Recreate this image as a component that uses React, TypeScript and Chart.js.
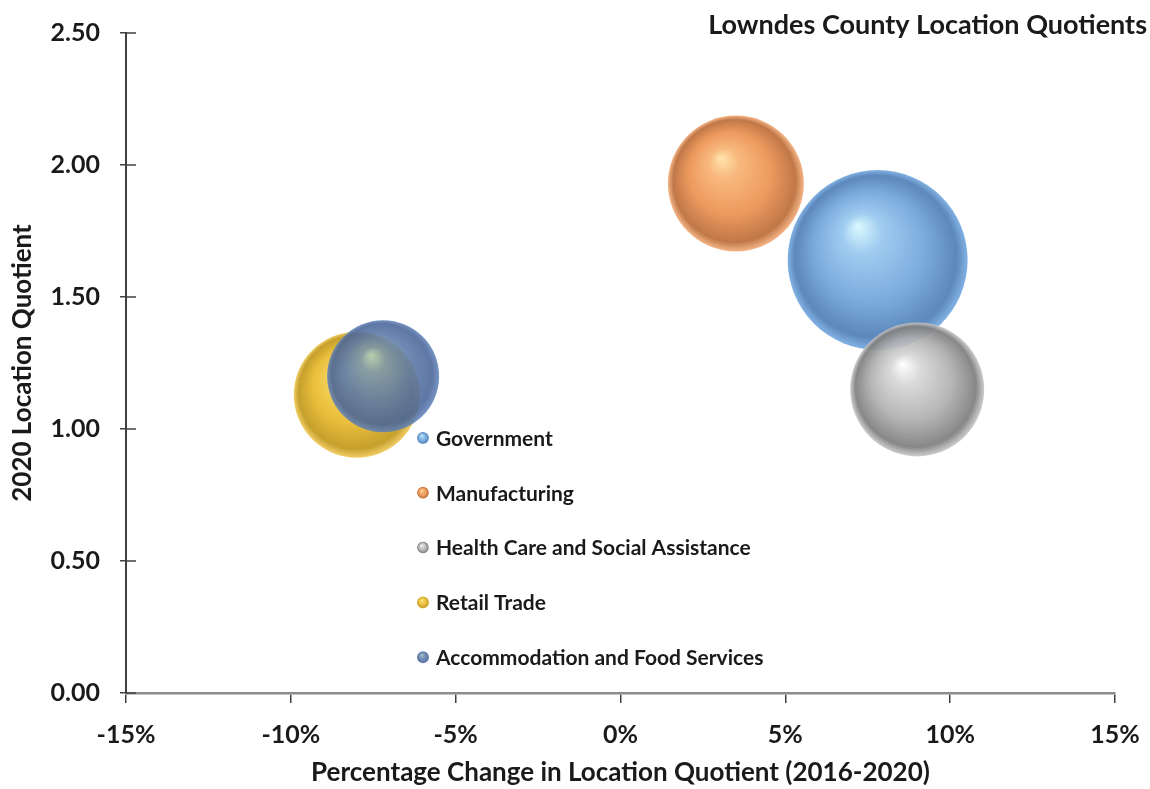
import { useEffect, useRef } from 'react';
import { Chart, registerables } from 'chart.js';

Chart.register(...registerables);

// ---- data ----
const categories = [
  'Government',
  'Manufacturing',
  'Health Care and Social Assistance',
  'Retail Trade',
  'Accommodation and Food Services',
];
const pctChange = [7.8, 3.5, 9.0, -8.0, -7.2];
const locationQuotient = [1.64, 1.93, 1.15, 1.13, 1.2];
const bubbleSize = [90, 68, 67, 63, 56];
const xTickValues = [-15, -10, -5, 0, 5, 10, 15];
const yTickValues = [0, 0.5, 1, 1.5, 2, 2.5];
const chartTitle = 'Lowndes County Location Quotients';
const xAxisTitle = 'Percentage Change in Location Quotient (2016-2020)';
const yAxisTitle = '2020 Location Quotient';

// ---- styles ----
type Shade = { hi: string; light: string; base: string; dark: string; rim: string };
const shades: Shade[] = [
  { hi: 'rgba(220,250,255,1)', light: 'rgba(160,204,240,1)', base: 'rgba(124,172,222,1)', dark: 'rgba(92,136,188,1)', rim: 'rgba(130,178,228,1)' },
  { hi: 'rgba(255,228,170,0.96)', light: 'rgba(248,182,120,0.96)', base: 'rgba(236,150,88,0.96)', dark: 'rgba(190,114,64,0.96)', rim: 'rgba(244,178,130,0.96)' },
  { hi: 'rgba(255,255,255,0.88)', light: 'rgba(214,214,214,0.9)', base: 'rgba(176,176,176,0.92)', dark: 'rgba(128,128,128,0.94)', rim: 'rgba(200,200,200,0.9)' },
  { hi: 'rgba(255,240,160,0.96)', light: 'rgba(244,210,90,0.96)', base: 'rgba(232,188,52,0.96)', dark: 'rgba(196,156,36,0.96)', rim: 'rgba(240,204,96,0.96)' },
  { hi: 'rgba(176,210,196,0.82)', light: 'rgba(118,150,176,0.85)', base: 'rgba(88,118,166,0.87)', dark: 'rgba(72,100,152,0.88)', rim: 'rgba(96,130,186,0.86)' },
];

const sphere = (ctx: CanvasRenderingContext2D, cx: number, cy: number, r: number, s: Shade) => {
  const g = ctx.createRadialGradient(cx - r * 0.22, cy - r * 0.38, 0, cx, cy, r);
  g.addColorStop(0, s.hi);
  g.addColorStop(0.22, s.light);
  g.addColorStop(0.6, s.base);
  g.addColorStop(0.9, s.dark);
  g.addColorStop(1, s.rim);
  return g;
};

const fillFor = (i: number) => (c: any) => {
  const chart = c.chart;
  const raw = c.raw;
  const s = shades[i];
  if (!raw || !chart.scales || !chart.scales.x || !chart.scales.y) return s.base;
  const cx = chart.scales.x.getPixelForValue(raw.x);
  const cy = chart.scales.y.getPixelForValue(raw.y);
  if (!Number.isFinite(cx) || !Number.isFinite(cy) || !Number.isFinite(raw.r)) return s.base;
  return sphere(chart.ctx, cx, cy, raw.r, s);
};

const FONT = 'Lato';
const TEXT = '#1a1a1a';

const decorPlugin = {
  id: 'decor',
  afterDraw(chart: any) {
    const { ctx, chartArea, scales } = chart;
    ctx.save();
    // inward y tick stubs
    ctx.strokeStyle = '#404040';
    ctx.lineWidth = 1.5;
    yTickValues.forEach((v) => {
      const y = scales.y.getPixelForValue(v);
      ctx.beginPath();
      ctx.moveTo(chartArea.left, y);
      ctx.lineTo(chartArea.left + 10, y);
      ctx.stroke();
    });
    // title
    ctx.font = `bold 27px ${FONT}`;
    ctx.fillStyle = TEXT;
    ctx.textAlign = 'right';
    ctx.textBaseline = 'middle';
    ctx.fillText(chartTitle, chart.width - 3, 25);
    // legend
    const lx = chartArea.left + 297;
    const ly = chartArea.top + 405;
    const step = 54.8;
    ctx.font = `bold 21px ${FONT}`;
    ctx.textAlign = 'left';
    categories.forEach((name, i) => {
      const y = ly + i * step;
      ctx.beginPath();
      ctx.arc(lx, y, 6, 0, Math.PI * 2);
      ctx.fillStyle = sphere(ctx, lx, y, 6, shades[i]);
      ctx.fill();
      ctx.fillStyle = TEXT;
      ctx.fillText(name, lx + 13, y + 1);
    });
    ctx.restore();
  },
};

export default function App() {
  const ref = useRef<HTMLCanvasElement | null>(null);
  useEffect(() => {
    document.body.style.margin = '0';
    const canvas = ref.current;
    if (!canvas) return;
    const chart = new Chart(canvas, {
      type: 'bubble',
      data: {
        datasets: categories.map((name, i) => ({
          label: name,
          data: [{ x: pctChange[i], y: locationQuotient[i], r: bubbleSize[i] }],
          backgroundColor: fillFor(i),
          borderWidth: 0,
          hoverBorderWidth: 0,
          order: categories.length - i,
          clip: false,
        })),
      },
      options: {
        responsive: false,
        animation: false,
        events: [],
        layout: { autoPadding: false, padding: { top: 33, right: 35, left: 0, bottom: 0 } },
        plugins: {
          legend: { display: false },
          tooltip: { enabled: false },
          title: { display: false },
        },
        scales: {
          x: {
            type: 'linear',
            min: -15,
            max: 15,
            afterBuildTicks: (axis: any) => {
              axis.ticks = xTickValues.map((v) => ({ value: v }));
            },
            afterFit: (axis: any) => {
              axis.height = 96;
              axis.paddingRight = 0;
              axis.paddingLeft = 0;
            },
            grid: { drawOnChartArea: false, drawTicks: true, tickLength: 10, color: '#404040', lineWidth: 1.5 },
            border: { color: '#8c8c8c', width: 2.5 },
            ticks: {
              callback: (v: any) => `${v}%`,
              font: { family: FONT, size: 25, weight: 'bold' },
              color: TEXT,
              padding: 17,
              maxRotation: 0,
            },
            title: {
              display: true,
              text: xAxisTitle,
              font: { family: FONT, size: 26, weight: 'bold' },
              color: TEXT,
              padding: { top: 0, bottom: 1 },
            },
          },
          y: {
            type: 'linear',
            min: 0,
            max: 2.5,
            afterBuildTicks: (axis: any) => {
              axis.ticks = yTickValues.map((v) => ({ value: v }));
            },
            afterFit: (axis: any) => {
              axis.width = 126;
              axis.paddingTop = 0;
              axis.paddingBottom = 0;
            },
            grid: { drawOnChartArea: false, drawTicks: true, tickLength: 6, color: '#404040', lineWidth: 1.5 },
            border: { color: '#404040', width: 2 },
            ticks: {
              callback: (v: any) => Number(v).toFixed(2),
              font: { family: FONT, size: 25, weight: 'bold' },
              color: TEXT,
              padding: 20,
            },
            title: {
              display: true,
              text: yAxisTitle,
              font: { family: FONT, size: 26, weight: 'bold' },
              color: TEXT,
              padding: { top: 7, bottom: 0 },
            },
          },
        },
      },
      plugins: [decorPlugin],
    });
    return () => chart.destroy();
  }, []);
  return (
    <div style={{ position: 'absolute', left: 0, top: 0, width: 1150, height: 789 }}>
      <canvas ref={ref} width={1150} height={789} />
    </div>
  );
}
